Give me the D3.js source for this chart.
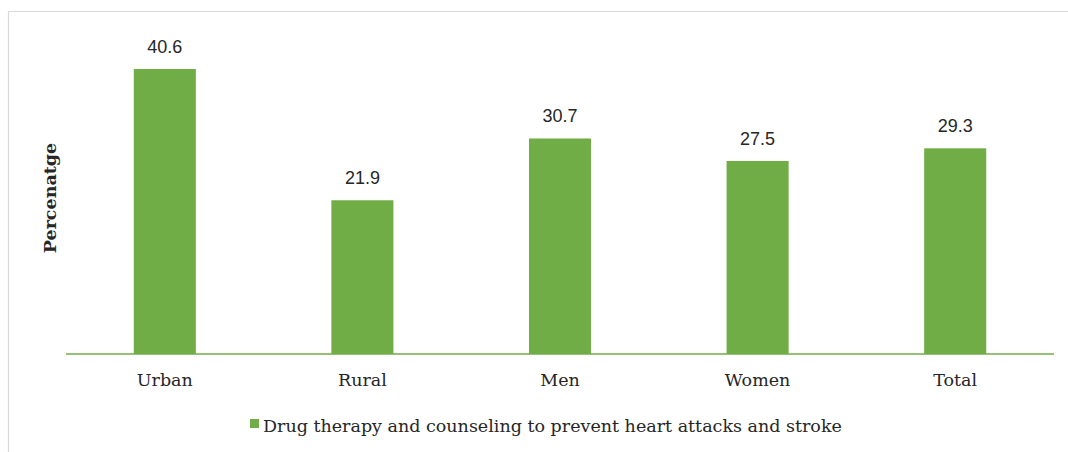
<!DOCTYPE html>
<html>
<head>
<meta charset="utf-8">
<script src="https://cdn.jsdelivr.net/npm/d3@7"></script>
<style>
  body { margin: 0; background: #fff; }
  .cat { font-family: "DejaVu Serif", serif; font-size: 17.5px; fill: #262626; }
  .val { font-family: "Liberation Sans", Arial, sans-serif; font-size: 18px; fill: #262626; }
</style>
</head>
<body>
<svg id="chart"></svg>
<script>
const categories = ["Urban", "Rural", "Men", "Women", "Total"];
const values = [40.6, 21.9, 30.7, 27.5, 29.3];
const seriesName = "Drug therapy and counseling to prevent heart attacks and stroke";
const yTitle = "Percenatge";

const w = 1068, h = 452;
const svg = d3.select("#chart").attr("width", w).attr("height", h);
const green = "#70ad47";

// chart frame (only top/left visible in the crop)
svg.append("path")
    .attr("d", `M8.5,${h} L8.5,11.5 L${w},11.5`)
    .attr("fill", "none").attr("stroke", "#d9d9d9").attr("stroke-width", 1.2);

const x = d3.scaleBand().domain(categories).range([66, 1054])
    .paddingInner(0.686).paddingOuter(0.343);
const y = d3.scaleLinear().domain([0, 45]).range([354, 354 - 45 * 7.02]);

svg.append("g").selectAll("rect").data(values).join("rect")
    .attr("x", (d, i) => x(categories[i]))
    .attr("y", d => y(d))
    .attr("width", x.bandwidth())
    .attr("height", d => y(0) - y(d))
    .attr("fill", green);

// baseline
svg.append("line")
    .attr("x1", 66).attr("x2", 1054)
    .attr("y1", y(0)).attr("y2", y(0))
    .attr("stroke", green).attr("stroke-width", 1.5);

svg.append("g").selectAll("text").data(values).join("text")
    .attr("class", "val")
    .attr("x", (d, i) => x(categories[i]) + x.bandwidth() / 2)
    .attr("y", d => y(d) - 16)
    .attr("text-anchor", "middle")
    .text(d => d.toFixed(1));

svg.append("g").selectAll("text").data(categories).join("text")
    .attr("class", "cat")
    .attr("x", d => x(d) + x.bandwidth() / 2)
    .attr("y", 386)
    .attr("text-anchor", "middle")
    .text(d => d);

svg.append("text")
    .attr("class", "cat")
    .attr("transform", "translate(56,198) rotate(-90)")
    .attr("text-anchor", "middle")
    .style("font-weight", "bold")
    .text(yTitle);

// legend
svg.append("rect").attr("x", 250).attr("y", 419).attr("width", 9).attr("height", 9).attr("fill", green);
svg.append("text").attr("class", "cat").attr("x", 263).attr("y", 432).text(seriesName);
</script>
</body>
</html>
